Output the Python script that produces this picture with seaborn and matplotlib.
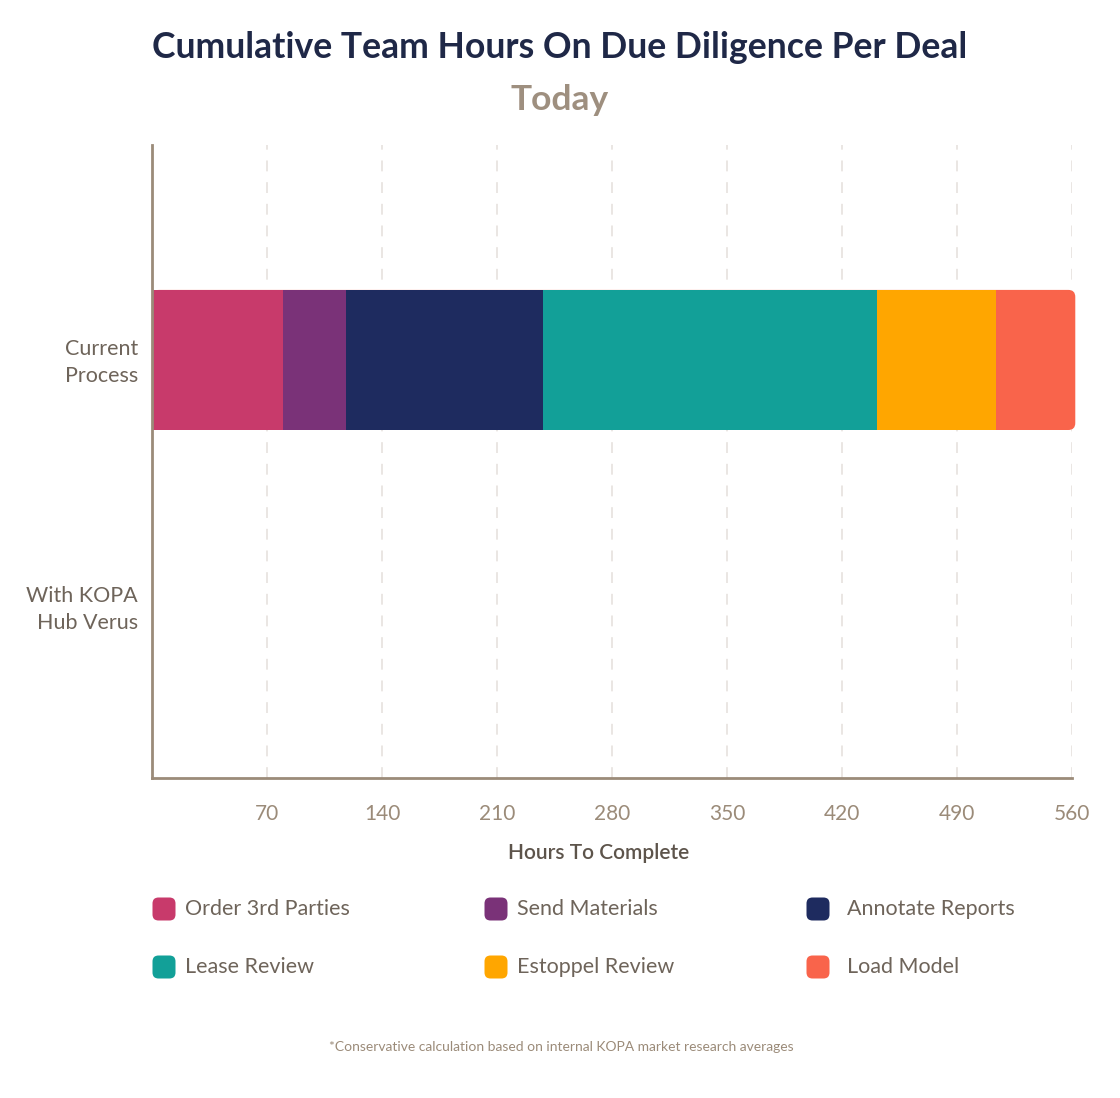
import pandas as pd
import numpy as np
import matplotlib.pyplot as plt
import seaborn as sns
from matplotlib.patches import FancyBboxPatch
from matplotlib.transforms import ScaledTranslation

# ------------ Data --------------
processes = ["Current\nProcess", "With KOPA\nHub Verus"]
stages = ["Order 3rd Parties", "Send Materials", "Annotate Reports",
          "Lease Review", "Estoppel Review", "Load Model"]
current_hours = [80, 38, 120, 203, 73, 48]
kopa_hours = [0, 0, 0, 0, 0, 0]
colors = ["#c83a6b", "#7a3278", "#1e2b5f", "#12a098", "#ffa600", "#f9644b"]
x_ticks = [70, 140, 210, 280, 350, 420, 490, 560]

rows = []
for i, st in enumerate(stages):
    rows.append({"process": processes[0], "stage": st, "hours": current_hours[i]})
    rows.append({"process": processes[1], "stage": st, "hours": kopa_hours[i]})
df = pd.DataFrame(rows)
df["cum"] = df.groupby("process")["hours"].cumsum()

sns.set_style("white")
plt.rcParams["font.family"] = ["Lato", "DejaVu Sans"]

tan = "#9b8b79"
dark_txt = "#6e645a"

fig = plt.figure(figsize=(11.2, 10.98), dpi=100)
ax = fig.add_axes([152 / 1120, 1 - 778 / 1098, 920 / 1120, 633 / 1098])

# stacked bars: draw the longest cumulative first, then overlay the shorter ones
last_patches = None
for st, col in reversed(list(zip(stages, colors))):
    sub = df[df["stage"] == st]
    n0 = len(ax.patches)
    sns.barplot(data=sub, x="cum", y="process", order=processes, color=col,
                orient="h", width=0.567, saturation=1, linewidth=0, ax=ax, zorder=3)
    if last_patches is None:
        last_patches = ax.patches[n0:]

ax.set_xlim(0, 560)
ax.set_ylim(1.692, -0.870)
ax.set_xticks(x_ticks)
ax.grid(axis="x", color="#e8e4e0", linestyle=(0, (6, 6)), linewidth=1.3, zorder=0)
ax.set_axisbelow(True)
for p in ax.patches:
    p.set_clip_on(False)

# round the right end of the outermost segment
fig.canvas.draw()
p0 = ax.transData.transform((0, 0))
p1 = ax.transData.transform((1, 1))
aspect = abs((p1[0] - p0[0]) / (p1[1] - p0[1]))
rx = 7 / abs(p1[0] - p0[0])
for p in last_patches:
    if p.get_width() <= 0:
        continue
    x, y, w, h = p.get_x(), p.get_y(), p.get_width(), p.get_height()
    fc = p.get_facecolor()
    p.remove()
    rb = FancyBboxPatch((x, y), w, h, boxstyle=f"round,pad=0,rounding_size={rx}",
                        mutation_aspect=aspect, facecolor=fc, edgecolor="none",
                        zorder=2.9, clip_on=False)
    ax.add_patch(rb)

for side in ["top", "right"]:
    ax.spines[side].set_visible(False)
for side in ["left", "bottom"]:
    ax.spines[side].set_color(tan)
    ax.spines[side].set_linewidth(2)
    ax.spines[side].set_zorder(4)

ax.tick_params(axis="x", colors=tan, labelsize=15, length=11, width=1.5, pad=8)
ax.tick_params(axis="y", length=0, pad=10, labelsize=15.5, labelcolor=dark_txt)
shift = ScaledTranslation(0, 3 / 100, fig.dpi_scale_trans)
for lab in ax.get_yticklabels():
    lab.set_horizontalalignment("right")
    lab.set_multialignment("right")
    lab.set_linespacing(1.45)
    lab.set_transform(lab.get_transform() + shift)

ax.set_ylabel("")
ax.set_xlabel("Hours To Complete", fontsize=15, color="#5d544b",
              fontweight="semibold")
ax.xaxis.set_label_coords(0.485, -0.102)

# ------------ Overlay for titles / legend / footnote (pixel coords) --------------
ov = fig.add_axes([0, 0, 1, 1], zorder=-1)
ov.set_xlim(0, 1120)
ov.set_ylim(1098, 0)
ov.axis("off")

ov.text(560, 47, "Cumulative Team Hours On Due Diligence Per Deal", ha="center",
        va="center", fontsize=25.6, fontweight="bold", color="#1f2847")
ov.text(560, 100, "Today", ha="center", va="center", fontsize=25.5,
        fontweight="bold", color="#9e8f7f")

col_marker = [164, 496, 818]
col_text = [185, 517, 847]
row_y = [909, 967]
for i, (st, col) in enumerate(zip(stages, colors)):
    c, r = i % 3, i // 3
    box = FancyBboxPatch((col_marker[c] - 11.5, row_y[r] - 11.5), 23, 23,
                         boxstyle="round,pad=0,rounding_size=6",
                         facecolor=col, edgecolor="none")
    ov.add_patch(box)
    ov.text(col_text[c], row_y[r], st, ha="left", va="center",
            fontsize=15.5, color=dark_txt)

ov.text(561, 1047, "*Conservative calculation based on internal KOPA market research averages",
        ha="center", va="center", fontsize=10, color=tan)

fig.savefig("out.png", dpi=100, facecolor="white")
